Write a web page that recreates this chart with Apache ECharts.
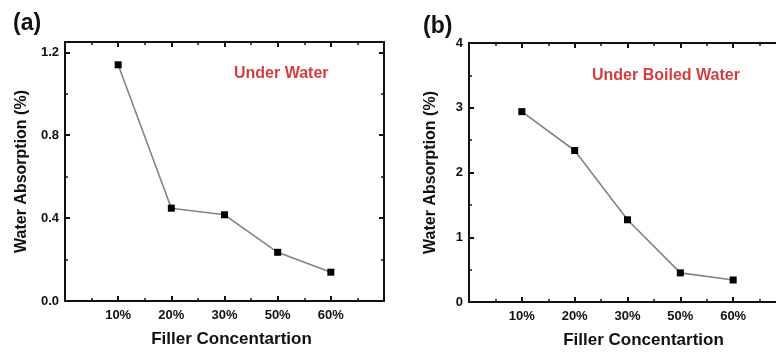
<!DOCTYPE html>
<html>
<head>
<meta charset="utf-8">
<script src="https://cdn.jsdelivr.net/npm/echarts@6/dist/echarts.min.js"></script>
<style>
html, body { margin: 0; padding: 0; background: #fff; }
#chart { width: 776px; height: 352px; }
</style>
</head>
<body>
<div id="chart"></div>
<script>
// Data
const categories = ['10%', '20%', '30%', '50%', '60%']
const underWater = [1.14, 0.448, 0.416, 0.235, 0.139]
const underBoiledWater = [2.94, 2.34, 1.27, 0.45, 0.34]

const FONT = 'Liberation Sans, Arial, sans-serif'
const axisColor = '#111'

// categories sit at x = 1..5 on a 0..6 value axis (minor ticks at halves)
const toPoints = (vals) => vals.map((v, i) => [i + 1, v])
const catLabel = (v) => (Number.isInteger(v) && v >= 1 && v <= categories.length ? categories[v - 1] : '')

function xAxes(gridIndex, shift) {
  const base = {
    gridIndex,
    type: 'value',
    min: 0,
    max: 6,
    interval: 1,
    splitLine: { show: false },
    axisLine: { onZero: false, lineStyle: { color: axisColor, width: 2 } },
    axisTick: { inside: true, length: 5, lineStyle: { color: axisColor, width: 2 } },
    minorTick: { show: true, splitNumber: 2, length: 3, lineStyle: { color: axisColor, width: 1.5 } },
  }
  return [
    {
      ...base,
      position: 'bottom',
      name: 'Filler Concentartion',
      nameLocation: 'middle',
      nameGap: 30,
      nameTextStyle: {
        fontFamily: FONT, fontWeight: 'bold', fontSize: 17, color: axisColor,
        padding: [0, 0, 0, shift],
      },
      axisLabel: {
        formatter: catLabel,
        fontFamily: FONT, fontWeight: 'bold', fontSize: 13, color: axisColor, margin: 8,
      },
    },
    { ...base, position: 'top', axisLabel: { show: false } },
  ]
}

function yAxes(gridIndex, max, interval, gap, fmt, showMax) {
  const base = {
    gridIndex,
    type: 'value',
    min: 0,
    max,
    interval,
    splitLine: { show: false },
    axisLine: { show: true, onZero: false, lineStyle: { color: axisColor, width: 2 } },
    axisTick: { show: true, inside: true, length: 5, lineStyle: { color: axisColor, width: 2 } },
    minorTick: { show: true, splitNumber: 2, length: 3, lineStyle: { color: axisColor, width: 1.5 } },
  }
  return [
    {
      ...base,
      position: 'left',
      name: 'Water Absorption (%)',
      nameLocation: 'middle',
      nameGap: gap,
      nameTextStyle: { fontFamily: FONT, fontWeight: 'bold', fontSize: 16, color: axisColor },
      axisLabel: {
        formatter: fmt,
        fontFamily: FONT, fontWeight: 'bold', fontSize: 13, color: axisColor, margin: 6,
        showMaxLabel: showMax,
      },
    },
    { ...base, position: 'right', axisLabel: { show: false } },
  ]
}

function series(idx, vals) {
  return {
    type: 'line',
    xAxisIndex: idx * 2,
    yAxisIndex: idx * 2,
    data: toPoints(vals),
    symbol: 'rect',
    symbolSize: 7,
    itemStyle: { color: '#000' },
    lineStyle: { color: '#8a807b', width: 1.6 },
    silent: true,
    animation: false,
  }
}

const chart = echarts.init(document.getElementById('chart'))

chart.setOption({
  backgroundColor: '#fff',
  animation: false,
  grid: [
    { left: 65, right: 392, top: 42, bottom: 51, outerBoundsMode: 'none', containLabel: false },
    { left: 469, right: -10, top: 43, bottom: 50, outerBoundsMode: 'none', containLabel: false },
  ],
  xAxis: [...xAxes(0, 14), ...xAxes(1, 32)],
  yAxis: [
    ...yAxes(0, 1.25, 0.4, 35, (v) => v.toFixed(1), false),
    ...yAxes(1, 4, 1, 30, (v) => String(v), true),
  ],
  series: [series(0, underWater), series(1, underBoiledWater)],
  graphic: [
    { type: 'text', left: 13, top: 12, style: { text: '(a)', font: 'bold 23px ' + FONT, fill: '#111' } },
    { type: 'text', left: 423, top: 15, style: { text: '(b)', font: 'bold 23px ' + FONT, fill: '#111' } },
    { type: 'text', left: 234, top: 66, style: { text: 'Under Water', font: 'bold 16px ' + FONT, fill: '#d43d3f' } },
    { type: 'text', left: 592, top: 68, style: { text: 'Under Boiled Water', font: 'bold 16px ' + FONT, fill: '#d43d3f' } },
  ],
})
</script>
</body>
</html>
